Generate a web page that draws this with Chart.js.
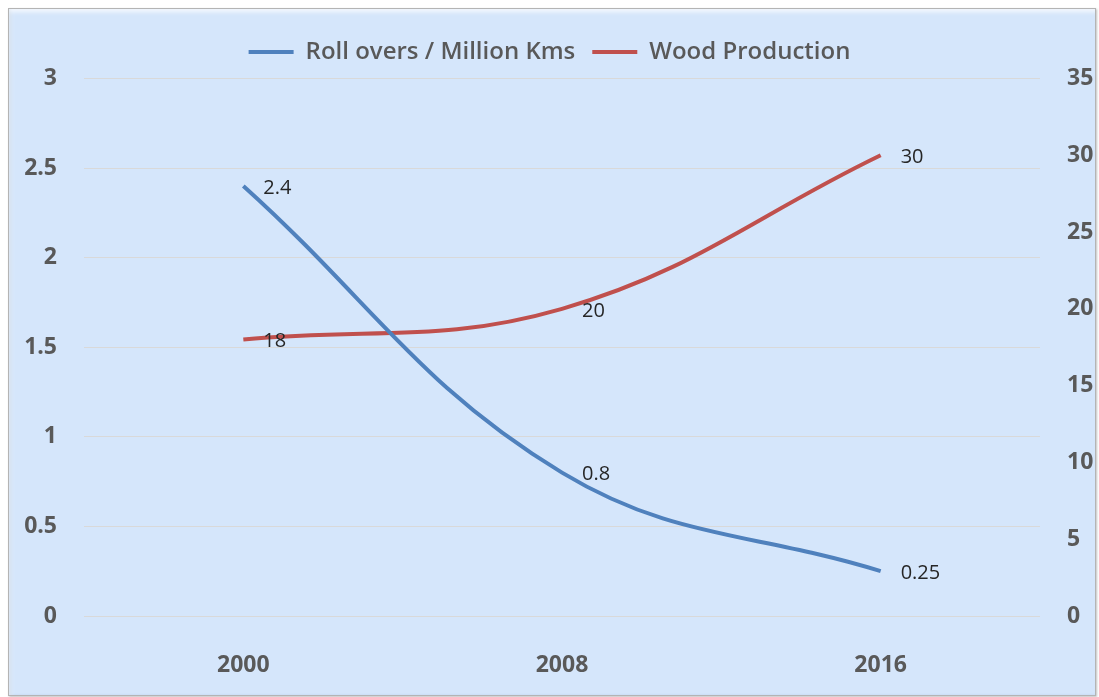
<!DOCTYPE html>
<html lang="en">
<head>
  <meta charset="UTF-8">
  <title>Roll overs vs Wood Production</title>
  <script src="https://cdn.jsdelivr.net/npm/chart.js"></script>
  <style>
    html, body { margin: 0; padding: 0; background: #fff; }
    body { width: 1099px; height: 697px; position: relative; overflow: hidden; }
    #frame {
      position: absolute; left: 8px; top: 8px; width: 1088px; height: 688px;
      box-sizing: border-box;
      background: #d5e6fb;
      border: 1px solid #b4b4b4;
      box-shadow: inset 4px 5px 4px -2px rgba(255,255,255,0.75),
                  inset 3px 0 3px -1px rgba(120,150,190,0.45),
                  1px 1px 2px rgba(0,0,0,0.25);
    }
    #chart { position: absolute; left: 0; top: 0; }
  </style>
</head>
<body>
  <div id="frame"></div>
  <canvas id="chart" width="1099" height="697"></canvas>

  <script>
    const years = ["2000", "2008", "2016"];
    const rollOvers = [2.4, 0.8, 0.25];
    const woodProduction = [18, 20, 30];

    const blue = "#4f81bd";
    const red = "#c0504d";

    // draws the value next to each point, like Excel's data labels
    const valueLabels = {
      id: "valueLabels",
      afterDatasetsDraw(chart) {
        const ctx = chart.ctx;
        ctx.save();
        ctx.font = '20px "Open Sans"';
        ctx.fillStyle = "#262626";
        ctx.textAlign = "left";
        ctx.textBaseline = "middle";
        chart.data.datasets.forEach((ds, i) => {
          chart.getDatasetMeta(i).data.forEach((pt, j) => {
            ctx.fillText(String(ds.data[j]), pt.x + 20, pt.y + 2);
          });
        });
        ctx.restore();
      }
    };

    const tickFont = { family: "Open Sans", size: 23, weight: "bold" };
    const plainNumber = v => String(v);

    new Chart(document.getElementById("chart"), {
      type: "line",
      data: {
        labels: years,
        datasets: [{
          label: "Roll overs / Million Kms",
          data: rollOvers,
          borderColor: blue,
          backgroundColor: blue,
          borderWidth: 4,
          pointRadius: 0,
          tension: 0.4,
          yAxisID: "y"
        }, {
          label: "Wood Production",
          data: woodProduction,
          borderColor: red,
          backgroundColor: red,
          borderWidth: 4,
          pointRadius: 0,
          tension: 0.4,
          yAxisID: "y1"
        }]
      },
      options: {
        responsive: false,
        animation: false,
        devicePixelRatio: 1,
        layout: { padding: { top: 23, left: 0, right: 0, bottom: 0 } },
        plugins: {
          legend: {
            position: "top",
            labels: {
              boxWidth: 45,
              boxHeight: 4,
              padding: 17,
              color: "#595959",
              font: { family: "Open Sans", size: 24, weight: "600" },
              generateLabels(chart) {
                const items = Chart.defaults.plugins.legend.labels.generateLabels(chart);
                items.forEach(it => { it.lineWidth = 0; });
                return items;
              }
            }
          },
          // empty spacer between legend and plot
          subtitle: {
            display: true,
            text: " ",
            position: "top",
            weight: 500,
            font: { size: 2 },
            padding: { top: 0, bottom: 2 }
          },
          tooltip: { enabled: false }
        },
        scales: {
          x: {
            offset: true,
            grid: { display: false },
            border: { display: false },
            ticks: { color: "#595959", font: tickFont, padding: 28 },
            afterFit(scale) { scale.height = 81; }
          },
          y: {
            position: "left",
            min: 0,
            max: 3,
            ticks: { stepSize: 0.5, color: "#595959", font: tickFont, padding: 27, callback: plainNumber },
            grid: { color: "#d9d9d9", drawTicks: false },
            border: { display: false },
            afterFit(scale) { scale.width = 84; }
          },
          y1: {
            position: "right",
            min: 0,
            max: 35,
            ticks: { stepSize: 5, color: "#595959", font: tickFont, padding: 27, callback: plainNumber },
            grid: { display: false, drawTicks: false },
            border: { display: false },
            afterFit(scale) { scale.width = 59; }
          }
        }
      },
      plugins: [valueLabels]
    });
  </script>
</body>
</html>
